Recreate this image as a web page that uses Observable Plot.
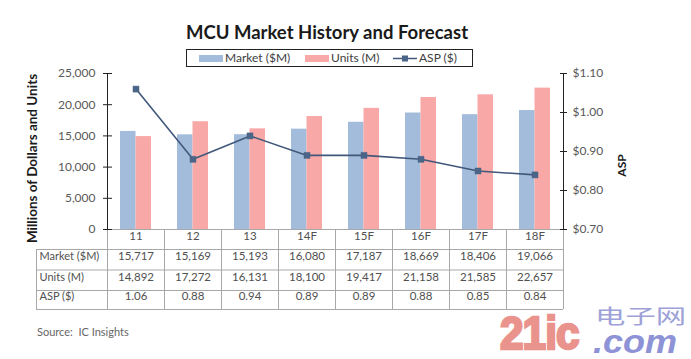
<!DOCTYPE html>
<html>
<head>
<meta charset="utf-8">
<script src="https://cdn.jsdelivr.net/npm/d3@7"></script>
<script src="https://cdn.jsdelivr.net/npm/@observablehq/plot@0.6"></script>
<style>
  body { margin: 0; background: #fff; font-family: Lato, "Open Sans", sans-serif; }
  #wrap { position: relative; width: 691px; height: 359px; overflow: hidden; background: #fff; }
  #chart { position: absolute; left: 0; top: 0; }
  #title { position: absolute; left: 0; width: 654px; top: 21px; text-align: center; font-weight: bold; font-size: 18.5px; color: #1a1a1a; line-height: 22px; }
  #legend { position: absolute; left: 186px; top: 49px; width: 285px; height: 16px; border: 1px solid #222; font-size: 12px; color: #404040; line-height: 16px; }
  #legend .item { position: absolute; top: 0; white-space: nowrap; }
  #legend .sw { position: absolute; top: 5px; width: 24px; height: 7px; }
  #source { position: absolute; left: 37px; top: 325px; font-size: 11px; color: #666; }
  .wm { position: absolute; white-space: nowrap; transform-origin: left top; }
  #wm21 { left: 500px; top: 310px; font-family: "Liberation Sans", sans-serif; font-weight: 700; font-size: 46px; line-height: 46px; color: #e9938c; -webkit-text-stroke: 2.5px #e9938c; transform: scaleX(0.92); letter-spacing: -1px; }
  #wmright { left: 595px; top: 305px; line-height: 1; }
  #wmright .cn { display: block; font-family: "Noto Sans CJK SC", sans-serif; font-size: 20px; line-height: 22px; height: 22px; color: #9ea2d8; transform: scaleX(1.52); transform-origin: left top; }
  #wmright .com { display: block; font-family: "Liberation Sans", sans-serif; font-weight: 700; font-style: italic; font-size: 34px; line-height: 28px; color: #8e92d6; transform: scaleX(1.06); transform-origin: left top; margin-left: -2px; }
</style>
</head>
<body>
<div id="wrap">
  <div id="chart"></div>
  <div id="title">MCU Market History and Forecast</div>
  <div id="legend"></div>
  <div id="source">Source:&nbsp; IC Insights</div>
  <div id="wm21" class="wm">21ic</div>
  <div id="wmright" class="wm"><span class="cn">电子网</span><span class="com">.com</span></div>
</div>
<script>
// ---- data ----
const categories = ["11", "12", "13", "14F", "15F", "16F", "17F", "18F"];
const market = [15717, 15169, 15193, 16080, 17187, 18669, 18406, 19066];
const units = [14892, 17272, 16131, 18100, 19417, 21158, 21585, 22657];
const asp = [1.06, 0.88, 0.94, 0.89, 0.89, 0.88, 0.85, 0.84];
const leftTicks = [0, 5000, 10000, 15000, 20000, 25000];
const rightTicks = [0.70, 0.80, 0.90, 1.00, 1.10];
const rowLabels = ["Market ($M)", "Units (M)", "ASP ($)"];
const seriesNames = ["Market ($M)", "Units (M)", "ASP ($)"];

// ---- helpers ----
const aspMin = 0.70, aspMax = 1.10, yMax = 25000;
const aspToY = v => (v - aspMin) / (aspMax - aspMin) * yMax;
const yToAsp = v => aspMin + v / yMax * (aspMax - aspMin);
const fmt = d3.format(",");
const table = categories.map((c, i) => ({cat: c, market: market[i], units: units[i], asp: asp[i], aspY: aspToY(asp[i])}));

const colBlue = "#a4bcdb", colPink = "#f8a8a6", colLine = "#41587a", colDot = "#4a6587";
const gridCol = "#a8a8a8", axisCol = "#222", textCol = "#505050", tickTextCol = "#595959";

const half = 28.5; // half band width in px
const rowDy = [30.5, 51, 70.5];
const tfs = 11.5;

const marks = [
  Plot.barY(table, {x: "cat", y: "market", fill: colBlue, insetLeft: 13, insetRight: 28.5}),
  Plot.barY(table, {x: "cat", y: "units", fill: colPink, insetLeft: 28.5, insetRight: 13}),
  // table grid
  Plot.ruleY([0], {stroke: gridCol}),
  ...[20, 40.5, 61, 80].map(d => Plot.ruleY([0], {dy: d, insetLeft: -71, stroke: gridCol})),
  Plot.ruleX(categories, {dx: -half, insetTop: 156, insetBottom: -80, stroke: gridCol}),
  Plot.ruleX([categories[categories.length - 1]], {dx: half, insetTop: 156, insetBottom: -80, stroke: gridCol}),
  Plot.ruleX([categories[0]], {dx: -half - 71, insetTop: 176, insetBottom: -80, stroke: gridCol}),
  // axis lines
  Plot.ruleX([categories[0]], {dx: -half, stroke: axisCol}),
  Plot.ruleX([categories[categories.length - 1]], {dx: half, stroke: axisCol}),
  // left ticks and labels
  Plot.ruleY(leftTicks, {insetLeft: -4, insetRight: 451, stroke: axisCol}),
  Plot.axisY(leftTicks, {tickSize: 0, tickPadding: 12, tickFormat: fmt, label: null, fill: tickTextCol, fontSize: 12}),
  // right ticks and labels
  Plot.ruleY(rightTicks.map(aspToY), {insetLeft: 453, insetRight: -4, stroke: axisCol}),
  Plot.axisY(rightTicks.map(aspToY), {anchor: "right", tickSize: 0, tickPadding: 9, tickFormat: v => "$" + yToAsp(v).toFixed(2), label: null, fill: tickTextCol, fontSize: 12}),
  // ASP line
  Plot.lineY(table, {x: "cat", y: "aspY", stroke: colLine, strokeWidth: 1.6}),
  Plot.dot(table, {x: "cat", y: "aspY", symbol: "square", r: 3.4, fill: colDot, stroke: colDot, strokeWidth: 0.5}),
  // axis titles
  Plot.text(["Millions of Dollars and Units"], {text: d => d, frameAnchor: "left", textAnchor: "middle", rotate: -90, dx: -75, dy: 7, fontWeight: "bold", fontSize: 13.5, fill: "#1a1a1a"}),
  Plot.text(["ASP"], {text: d => d, frameAnchor: "right", textAnchor: "middle", rotate: -90, dx: 59, dy: 14, fontWeight: "bold", fontSize: 12, fill: "#1a1a1a"}),
  // table text
  Plot.text(table, {x: "cat", text: "cat", frameAnchor: "bottom", dy: 10, fill: textCol, fontSize: tfs}),
  Plot.text(table, {x: "cat", text: d => fmt(d.market), frameAnchor: "bottom", dy: rowDy[0], fill: textCol, fontSize: tfs}),
  Plot.text(table, {x: "cat", text: d => fmt(d.units), frameAnchor: "bottom", dy: rowDy[1], fill: textCol, fontSize: tfs}),
  Plot.text(table, {x: "cat", text: d => d.asp.toFixed(2), frameAnchor: "bottom", dy: rowDy[2], fill: textCol, fontSize: tfs}),
  ...rowLabels.map((r, i) => Plot.text([r], {text: d => d, frameAnchor: "bottom-left", textAnchor: "start", dx: -68, dy: rowDy[i], fill: textCol, fontSize: 11}))
];

const chart = Plot.plot({
  width: 691,
  height: 359,
  marginTop: 73,
  marginBottom: 130,
  marginLeft: 107,
  marginRight: 128,
  x: {type: "band", domain: categories, padding: 0, axis: null},
  y: {domain: [0, yMax], axis: null},
  style: {fontFamily: "Lato, 'Open Sans', sans-serif", fontSize: "12px", background: "transparent", overflow: "visible"},
  marks
});
document.getElementById("chart").appendChild(chart);

// legend
const legend = document.getElementById("legend");
const items = [
  {x: 12, type: "bar", color: colBlue, text: seriesNames[0]},
  {x: 118, type: "bar", color: colPink, text: seriesNames[1]},
  {x: 206, type: "line", color: colLine, text: seriesNames[2]}
];
items.forEach(it => {
  const el = document.createElement("div");
  el.className = "item";
  el.style.left = it.x + "px";
  if (it.type === "bar") {
    el.innerHTML = `<span class="sw" style="left:0;background:${it.color}"></span><span style="margin-left:26px">${it.text}</span>`;
  } else {
    el.innerHTML = `<svg width="24" height="16" style="position:absolute;left:0;top:0"><line x1="0" x2="24" y1="8.5" y2="8.5" stroke="${it.color}" stroke-width="1.5"/><rect x="9" y="5.5" width="6" height="6" fill="${colDot}"/></svg><span style="margin-left:26px">${it.text}</span>`;
  }
  legend.appendChild(el);
});
</script>
</body>
</html>
